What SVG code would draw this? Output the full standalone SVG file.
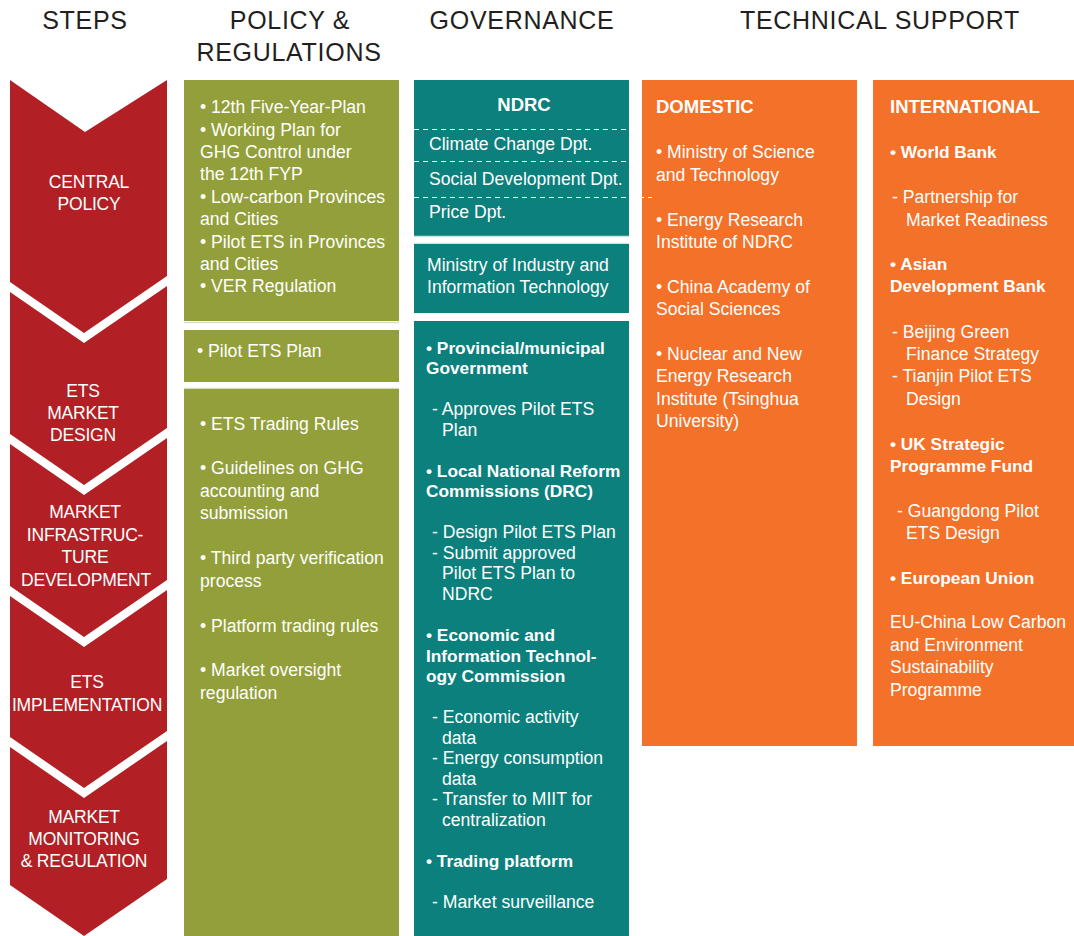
<svg xmlns="http://www.w3.org/2000/svg" width="1074" height="936" viewBox="0 0 1074 936">
<style>
.h{font-family:"Liberation Sans",Arial,sans-serif;font-size:25px;fill:#231F20;letter-spacing:0.7px}
.s{font-family:"Liberation Sans",Arial,sans-serif;font-size:17.5px;fill:#fff;text-anchor:middle;letter-spacing:-0.2px}
.t{font-family:"Liberation Sans",Arial,sans-serif;font-size:17.6px;fill:#fff}
.b{font-family:"Liberation Sans",Arial,sans-serif;font-size:17.3px;font-weight:bold;fill:#fff}
.hd{font-family:"Liberation Sans",Arial,sans-serif;font-size:18.5px;font-weight:bold;fill:#fff}
.red{fill:#B21F24}
.grn{fill:#939F3A}
.tea{fill:#0B807C}
.org{fill:#F37129}
.dash{stroke:#fff;stroke-width:1;stroke-dasharray:5 4;fill:none}
.pale{stroke:#D9DEBF;stroke-width:1.5}
.palet{stroke:#CFE3E2;stroke-width:1.5}
</style>

<g id="headers">
<text class="h" x="85" y="29" text-anchor="middle">STEPS</text>
<text class="h" x="290" y="29" text-anchor="middle">POLICY &amp;</text>
<text class="h" x="289" y="61" text-anchor="middle">REGULATIONS</text>
<text class="h" x="522" y="29" text-anchor="middle">GOVERNANCE</text>
<text class="h" x="880" y="29" text-anchor="middle">TECHNICAL SUPPORT</text>
</g>

<g id="step-central-policy">
<path class="red" d="M10,80 L85,132 L167,80 L167,276 L84,333 L10,282 Z"/>
<text class="s" x="89" y="188">CENTRAL</text>
<text class="s" x="89" y="210">POLICY</text>
</g>
<g id="step-ets-market-design">
<path class="red" d="M10,292 L84,343 L167,286 L167,428 L84,485 L10,434 Z"/>
<text class="s" x="83" y="397">ETS</text>
<text class="s" x="83" y="419">MARKET</text>
<text class="s" x="83" y="441">DESIGN</text>
</g>
<g id="step-market-infrastructure">
<path class="red" d="M10,444 L84,495 L167,438 L167,580 L84,637 L10,586 Z"/>
<text class="s" x="85" y="518">MARKET</text>
<text class="s" x="85" y="541">INFRASTRUC-</text>
<text class="s" x="85" y="563">TURE</text>
<text class="s" x="86" y="586">DEVELOPMENT</text>
</g>
<g id="step-ets-implementation">
<path class="red" d="M10,596 L84,647 L167,590 L167,731 L84,788 L10,737 Z"/>
<text class="s" x="87" y="688">ETS</text>
<text class="s" x="87" y="711">IMPLEMENTATION</text>
</g>
<g id="step-market-monitoring">
<path class="red" d="M10,747 L84,798 L167,741 L167,879 L84,936 L10,885 Z"/>
<text class="s" x="84" y="823">MARKET</text>
<text class="s" x="84" y="845">MONITORING</text>
<text class="s" x="84" y="867">&amp; REGULATION</text>
</g>

<g id="policy-central">
<rect class="grn" x="184" y="80" width="215" height="241"/>
<line class="pale" x1="184" y1="322.5" x2="399" y2="322.5"/>
<text class="t" x="200" y="113">• 12th Five-Year-Plan</text>
<text class="t" x="200" y="136">• Working Plan for</text>
<text class="t" x="200" y="158">GHG Control under</text>
<text class="t" x="200" y="180">the 12th FYP</text>
<text class="t" x="200" y="203">• Low-carbon Provinces</text>
<text class="t" x="200" y="225">and Cities</text>
<text class="t" x="200" y="248">• Pilot ETS in Provinces</text>
<text class="t" x="200" y="270">and Cities</text>
<text class="t" x="200" y="292">• VER Regulation</text>
</g>
<g id="policy-design">
<rect class="grn" x="184" y="330" width="215" height="52"/>
<text class="t" x="197" y="357">• Pilot ETS Plan</text>
</g>
<g id="policy-rules">
<line class="pale" x1="184" y1="388.5" x2="399" y2="388.5"/>
<rect class="grn" x="184" y="389" width="215" height="547"/>
<text class="t" x="200" y="430">• ETS Trading Rules</text>
<text class="t" x="200" y="474">• Guidelines on GHG</text>
<text class="t" x="200" y="497">accounting and</text>
<text class="t" x="200" y="519">submission</text>
<text class="t" x="200" y="564">• Third party verification</text>
<text class="t" x="200" y="587">process</text>
<text class="t" x="200" y="632">• Platform trading rules</text>
<text class="t" x="200" y="676">• Market oversight</text>
<text class="t" x="200" y="699">regulation</text>
</g>

<g id="gov-ndrc">
<rect class="tea" x="414" y="80" width="215" height="156"/>
<line class="palet" x1="414" y1="236.5" x2="629" y2="236.5"/>
<text class="hd" x="524" y="111" text-anchor="middle">NDRC</text>
<text class="t" x="429" y="150">Climate Change Dpt.</text>
<text class="t" x="429" y="185">Social Development Dpt.</text>
<text class="t" x="429" y="218">Price Dpt.</text>
</g>
<g id="gov-miit">
<line class="palet" x1="414" y1="243.5" x2="629" y2="243.5"/>
<rect class="tea" x="414" y="244" width="215" height="69"/>
<text class="t" x="427" y="271">Ministry of Industry and</text>
<text class="t" x="427" y="293">Information Technology</text>
</g>
<g id="gov-local">
<rect class="tea" x="414" y="321" width="215" height="615"/>
<text class="b" x="426" y="354">• Provincial/municipal</text>
<text class="b" x="426" y="374">Government</text>
<text class="t" x="432" y="415">- Approves Pilot ETS</text>
<text class="t" x="442" y="436">Plan</text>
<text class="b" x="426" y="477">• Local National Reform</text>
<text class="b" x="426" y="497">Commissions (DRC)</text>
<text class="t" x="432" y="538">- Design Pilot ETS Plan</text>
<text class="t" x="432" y="559">- Submit approved</text>
<text class="t" x="442" y="579">Pilot ETS Plan to</text>
<text class="t" x="442" y="600">NDRC</text>
<text class="b" x="426" y="641">• Economic and</text>
<text class="b" x="426" y="662">Information Technol-</text>
<text class="b" x="426" y="682">ogy Commission</text>
<text class="t" x="432" y="723">- Economic activity</text>
<text class="t" x="442" y="744">data</text>
<text class="t" x="432" y="764">- Energy consumption</text>
<text class="t" x="442" y="785">data</text>
<text class="t" x="432" y="805">- Transfer to MIIT for</text>
<text class="t" x="442" y="826">centralization</text>
<text class="b" x="426" y="867">• Trading platform</text>
<text class="t" x="432" y="908">- Market surveillance</text>
</g>

<g id="tech-domestic">
<rect class="org" x="642" y="80" width="215" height="666"/>
<text class="hd" x="656" y="113">DOMESTIC</text>
<text class="t" x="656" y="158">• Ministry of Science</text>
<text class="t" x="656" y="181">and Technology</text>
<text class="t" x="656" y="226">• Energy Research</text>
<text class="t" x="656" y="248">Institute of NDRC</text>
<text class="t" x="656" y="293">• China Academy of</text>
<text class="t" x="656" y="315">Social Sciences</text>
<text class="t" x="656" y="360">• Nuclear and New</text>
<text class="t" x="656" y="382">Energy Research</text>
<text class="t" x="656" y="405">Institute (Tsinghua</text>
<text class="t" x="656" y="427">University)</text>
</g>
<g id="tech-international">
<rect class="org" x="873" y="80" width="201" height="666"/>
<text class="hd" x="890" y="113">INTERNATIONAL</text>
<text class="b" x="890" y="158">• World Bank</text>
<text class="t" x="892" y="203">- Partnership for</text>
<text class="t" x="906" y="226">Market Readiness</text>
<text class="b" x="890" y="270">• Asian</text>
<text class="b" x="890" y="292">Development Bank</text>
<text class="t" x="892" y="338">- Beijing Green</text>
<text class="t" x="906" y="360">Finance Strategy</text>
<text class="t" x="892" y="382">- Tianjin Pilot ETS</text>
<text class="t" x="906" y="405">Design</text>
<text class="b" x="890" y="450">• UK Strategic</text>
<text class="b" x="890" y="472">Programme Fund</text>
<text class="t" x="897" y="517">- Guangdong Pilot</text>
<text class="t" x="906" y="539">ETS Design</text>
<text class="b" x="890" y="584">• European Union</text>
<text class="t" x="890" y="628">EU-China Low Carbon</text>
<text class="t" x="890" y="651">and Environment</text>
<text class="t" x="890" y="673">Sustainability</text>
<text class="t" x="890" y="696">Programme</text>
</g>

<g id="connectors">
<line class="dash" x1="414" y1="129.5" x2="629" y2="129.5"/>
<line class="dash" x1="414" y1="161.5" x2="629" y2="161.5"/>
<line class="dash" x1="414" y1="197.5" x2="652" y2="197.5"/>
</g>
</svg>
